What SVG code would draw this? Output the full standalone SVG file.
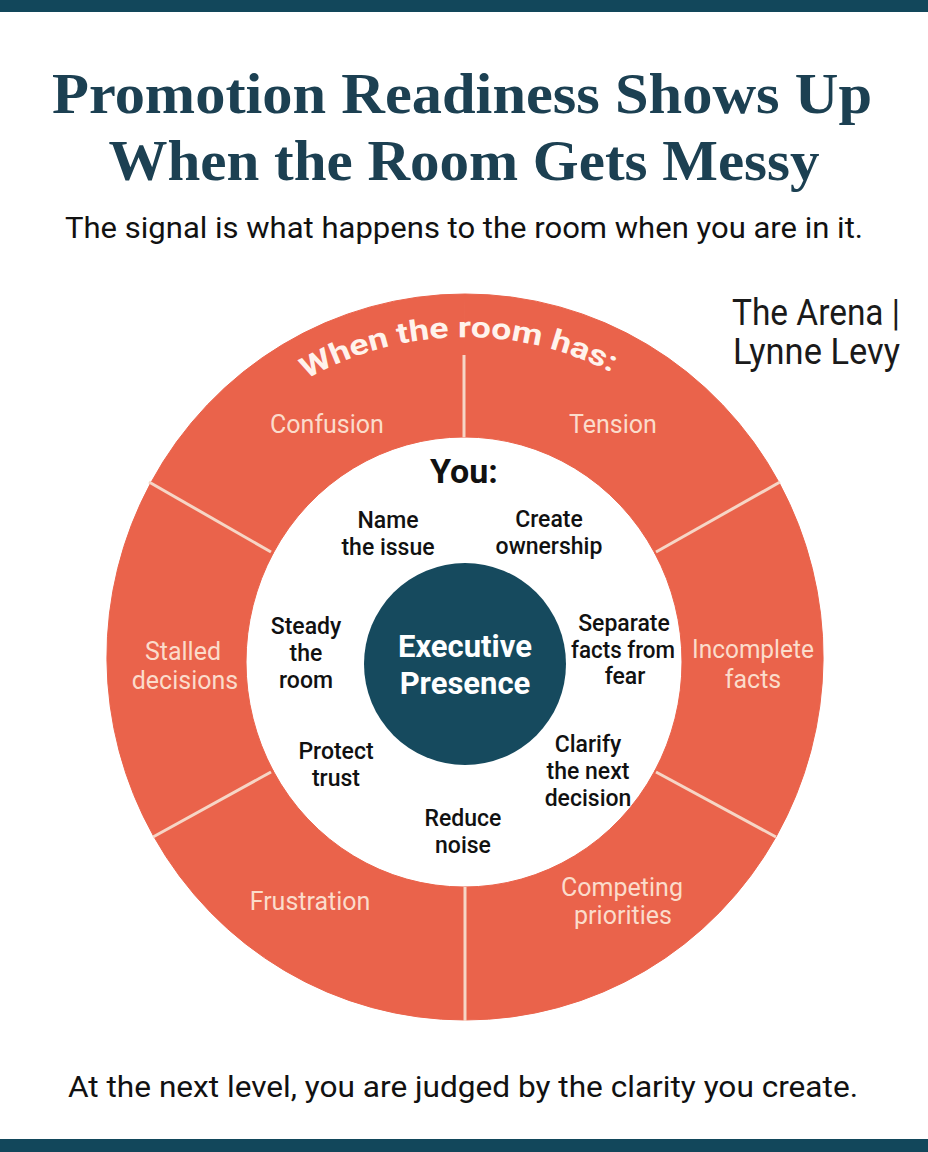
<svg xmlns="http://www.w3.org/2000/svg" width="928" height="1152" viewBox="0 0 928 1152">
  <style>
    .title { font-family: "Liberation Serif", "DejaVu Serif", serif; font-weight: bold; font-size: 56px; fill: #1C4052; text-anchor: middle; }
    .sub { font-family: Roboto, "Liberation Sans", sans-serif; font-size: 30px; fill: #111; text-anchor: middle; }
    .credit { font-family: Roboto, "Liberation Sans", sans-serif; font-size: 36px; fill: #1a1a1a; }
    .seg { fill: #EA634B; stroke: #EA634B; stroke-width: 1; }
    .seglbl { font-family: Roboto, "Liberation Sans", sans-serif; font-size: 25px; fill: #FBDCCB; text-anchor: middle; }
    .act { font-family: Roboto, "Liberation Sans", sans-serif; font-size: 23px; font-weight: 500; fill: #111; text-anchor: middle; }
    .div { stroke: #F6D6C6; stroke-width: 3; }
    .core { fill: #164A5E; }
    .corelbl { font-family: Roboto, "Liberation Sans", sans-serif; font-size: 31px; font-weight: bold; fill: #FFFFFF; text-anchor: middle; }
  </style>
  <defs>
    <path id="arcpath" d="M 188 497 A 320 320 0 0 1 742 497"/>
  </defs>
  <rect x="0" y="0" width="928" height="1152" fill="#FFFFFF"/>
  <rect x="0" y="0" width="928" height="12" fill="#12475B"/>
  <rect x="0" y="1139" width="928" height="13" fill="#12475B"/>

  <g id="title">
    <text class="title" x="462" y="113" textLength="820" lengthAdjust="spacingAndGlyphs">Promotion Readiness Shows Up</text>
    <text class="title" x="464" y="180" textLength="711" lengthAdjust="spacingAndGlyphs">When the Room Gets Messy</text>
  </g>
  <g id="subtitle">
    <text class="sub" x="464" y="238" textLength="798" lengthAdjust="spacingAndGlyphs">The signal is what happens to the room when you are in it.</text>
  </g>
  <g id="credit">
    <text class="credit" x="732" y="325" textLength="168" lengthAdjust="spacingAndGlyphs">The Arena |</text>
    <text class="credit" x="733" y="364" textLength="167" lengthAdjust="spacingAndGlyphs">Lynne Levy</text>
  </g>

  <g id="seg-tension">
    <path class="seg" d="M 465 294 A 358 363 0 0 1 779.3 483 L 654.7 553 A 218 225 0 0 0 464 437 Z"/>
    <text class="seglbl" x="613" y="433">Tension</text>
  </g>
  <g id="seg-incomplete">
    <path class="seg" d="M 779.3 483 A 358 363 0 0 1 776.5 836 L 654.7 771 A 218 225 0 0 0 654.7 553 Z"/>
    <text class="seglbl" x="753" y="658" textLength="122" lengthAdjust="spacingAndGlyphs">Incomplete</text>
    <text class="seglbl" x="753" y="688">facts</text>
  </g>
  <g id="seg-competing">
    <path class="seg" d="M 776.5 836 A 358 363 0 0 1 465 1020 L 464 887 A 218 225 0 0 0 654.7 771 Z"/>
    <text class="seglbl" x="622" y="896" font-size="24">Competing</text>
    <text class="seglbl" x="623" y="924" font-size="24">priorities</text>
  </g>
  <g id="seg-frustration">
    <path class="seg" d="M 465 1020 A 358 363 0 0 1 153.5 836 L 273.3 771 A 218 225 0 0 0 464 887 Z"/>
    <text class="seglbl" x="310" y="910">Frustration</text>
  </g>
  <g id="seg-stalled">
    <path class="seg" d="M 153.5 836 A 358 363 0 0 1 150.7 483 L 273.3 553 A 218 225 0 0 0 273.3 771 Z"/>
    <text class="seglbl" x="183" y="660">Stalled</text>
    <text class="seglbl" x="185" y="689">decisions</text>
  </g>
  <g id="seg-confusion">
    <path class="seg" d="M 150.7 483 A 358 363 0 0 1 465 294 L 464 437 A 218 225 0 0 0 273.3 553 Z"/>
    <text class="seglbl" x="327" y="433">Confusion</text>
  </g>

  <g id="dividers">
    <line class="div" x1="464" y1="355" x2="464" y2="437"/>
    <line class="div" x1="656" y1="552" x2="780" y2="482"/>
    <line class="div" x1="656" y1="772" x2="776" y2="837"/>
    <line class="div" x1="465" y1="887" x2="465" y2="1021"/>
    <line class="div" x1="271" y1="772" x2="153" y2="837"/>
    <line class="div" x1="271" y1="552" x2="149" y2="482"/>
  </g>

  <g id="ring-heading">
    <text font-family="Roboto, 'Liberation Sans', sans-serif" font-size="29" font-weight="bold" fill="#FFF3EC" text-anchor="middle"><textPath href="#arcpath" startOffset="49%" textLength="318" lengthAdjust="spacingAndGlyphs">When the room has:</textPath></text>
  </g>

  <g id="you">
    <text x="464" y="483" font-family="Roboto, 'Liberation Sans', sans-serif" font-size="34" font-weight="bold" fill="#111" text-anchor="middle">You:</text>
  </g>

  <g id="act-name">
    <text class="act" x="388" y="528">Name</text>
    <text class="act" x="388" y="555">the issue</text>
  </g>
  <g id="act-create">
    <text class="act" x="549" y="527">Create</text>
    <text class="act" x="549" y="554">ownership</text>
  </g>
  <g id="act-steady">
    <text class="act" x="306" y="634">Steady</text>
    <text class="act" x="306" y="661">the</text>
    <text class="act" x="306" y="688">room</text>
  </g>
  <g id="act-separate">
    <text class="act" x="624" y="631">Separate</text>
    <text class="act" x="623" y="658" textLength="104" lengthAdjust="spacingAndGlyphs">facts from</text>
    <text class="act" x="625" y="684">fear</text>
  </g>
  <g id="act-protect">
    <text class="act" x="336" y="759">Protect</text>
    <text class="act" x="336" y="786">trust</text>
  </g>
  <g id="act-reduce">
    <text class="act" x="463" y="826">Reduce</text>
    <text class="act" x="463" y="853">noise</text>
  </g>
  <g id="act-clarify">
    <text class="act" x="588" y="752">Clarify</text>
    <text class="act" x="588" y="779">the next</text>
    <text class="act" x="588" y="806">decision</text>
  </g>

  <g id="executive-presence">
    <circle class="core" cx="465" cy="664" r="101"/>
    <text class="corelbl" x="465" y="657">Executive</text>
    <text class="corelbl" x="465" y="694">Presence</text>
  </g>

  <g id="footer">
    <text class="sub" x="463" y="1097" font-size="31" textLength="790" lengthAdjust="spacingAndGlyphs">At the next level, you are judged by the clarity you create.</text>
  </g>
</svg>
